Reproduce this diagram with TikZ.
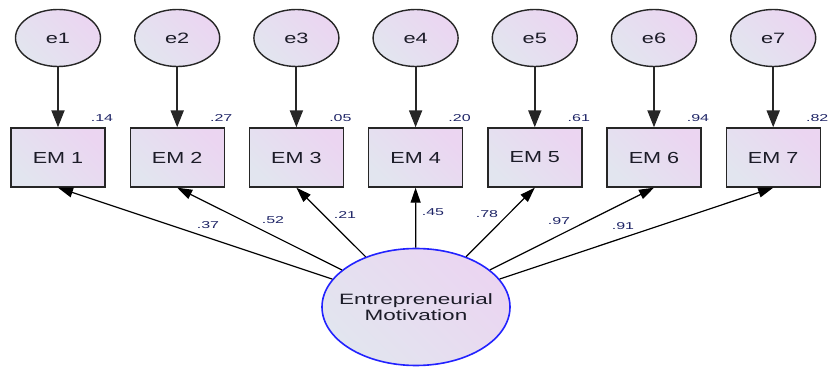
\documentclass[tikz,border=0pt]{standalone}
\usepackage{fontspec}
\usetikzlibrary{arrows.meta,shapes.geometric}
\newfontfamily\emfont{Liberation Sans}[FakeStretch=1.35]
\newfontfamily\efont{Liberation Sans}[FakeStretch=1.45]
\newfontfamily\numfont{Liberation Sans}[FakeStretch=1.6]
\newfontfamily\bigfont{Liberation Sans}[FakeStretch=1.5]
\definecolor{gA}{HTML}{E2E5EF}
\definecolor{gB}{HTML}{EBD5F1}
\definecolor{edgeC}{HTML}{262626}
\definecolor{blueC}{HTML}{2222FF}
\definecolor{numC}{HTML}{1E2466}
\definecolor{txtC}{HTML}{1C1C28}
\tikzset{
  grad/.style={left color=gA, right color=gB, shading angle=135},
  errnode/.style={ellipse, draw=edgeC, line width=1.4pt, grad, minimum width=85pt, minimum height=57pt, inner sep=0pt, font=\efont\fontsize{15}{17}\selectfont, text=txtC},
  obsbox/.style={rectangle, draw=edgeC, line width=1.4pt, grad, minimum width=94pt, minimum height=59pt, inner sep=0pt, font=\emfont\fontsize{16}{18}\selectfont, text=txtC},
  latent/.style={ellipse, draw=blueC, line width=1.6pt, grad, minimum width=188pt, minimum height=117pt, inner xsep=-25pt, inner ysep=0pt, align=center, font=\bigfont\fontsize{15}{16}\selectfont, text=txtC},
  numlab/.style={font=\numfont\fontsize{10}{11}\selectfont, text=numC, inner sep=0pt},
  errarrow/.style={draw=edgeC, line width=2pt, -{Triangle[length=17pt,width=13pt]}},
  loadarrow/.style={draw=black, line width=1.2pt, -{Triangle[length=15pt,width=10pt]}},
}
\begin{document}
\begin{tikzpicture}[x=1pt,y=1pt]
\useasboundingbox (0,0) rectangle (831,367);
\foreach \i/\xx/\r in {1/58/.14,2/177.2/.27,3/296.4/.05,4/415.6/.20,5/534.8/.61,6/654/.94,7/773.2/.82}{
  \node[errnode] (e\i) at (\xx,329) {e\i};
  \node[obsbox] (em\i) at (\xx,209.5) {EM \i};
  \node[numlab] (r\i) at (\xx+44,249) {\r};
  \draw[errarrow] (e\i) -- (em\i);
}
\node[latent] (lat) at (416,60) {Entrepreneurial\\Motivation};
\foreach \i in {1,...,7}{
  \draw[loadarrow] (lat) -- (em\i.south);
}
\node[numlab] (l1) at (208,142) {.37};
\node[numlab] (l2) at (273,147) {.52};
\node[numlab] (l3) at (345,152) {.21};
\node[numlab] (l4) at (433,155) {.45};
\node[numlab] (l5) at (487,153) {.78};
\node[numlab] (l6) at (559,146) {.97};
\node[numlab] (l7) at (623,141) {.91};
\end{tikzpicture}
\end{document}
